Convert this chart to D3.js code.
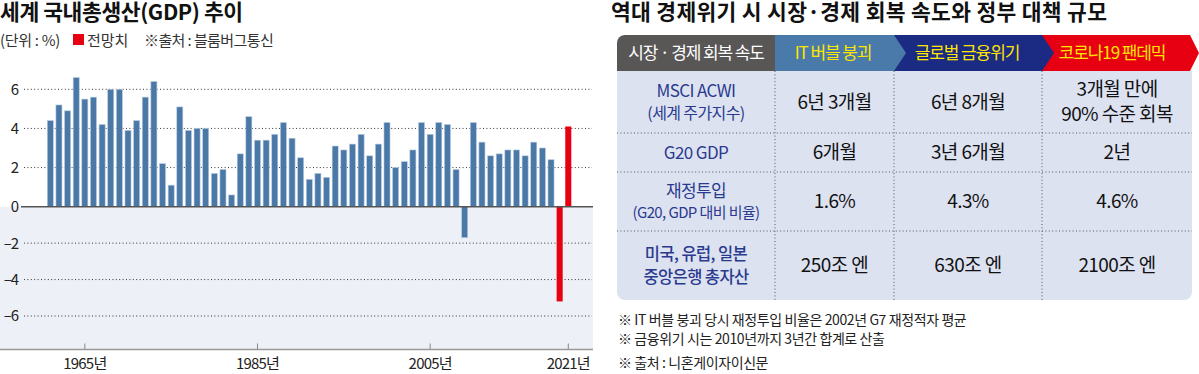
<!DOCTYPE html>
<html>
<head>
<meta charset="utf-8">
<script src="https://cdn.jsdelivr.net/npm/d3@7"></script>
<style>
  body { margin: 0; background: #fff; }
  svg { display: block; }
  text { font-family: "Noto Sans CJK KR", sans-serif; }
</style>
</head>
<body>
<div id="chart"></div>
<script>
// ---- data: world GDP growth (%), 2020-2021 are forecasts
var years = d3.range(1961, 2022);
var gdpGrowth = [
  4.4, 5.2, 4.9, 6.6, 5.5, 5.6, 4.2, 6.0, 6.0, 3.9,
  4.4, 5.6, 6.4, 2.2, 1.1, 5.1, 3.9, 4.0, 4.0, 1.7,
  1.9, 0.6, 2.7, 4.6, 3.4, 3.4, 3.7, 4.3, 3.5, 2.5,
  1.4, 1.7, 1.5, 3.1, 2.9, 3.2, 3.7, 2.6, 3.2, 4.3,
  2.0, 2.3, 2.9, 4.3, 3.7, 4.3, 4.2, 1.9, -1.7, 4.3,
  3.3, 2.6, 2.7, 2.9, 2.9, 2.6, 3.3, 3.0, 2.4, -5.2,
  4.1
];
var forecastYears = [2020, 2021];
var yTicks = [6, 4, 2, 0, -2, -4, -6];
var xTickYears = [1965, 1985, 2005, 2021];

// ---- data: table
var headers = ["시장 · 경제 회복 속도", "IT 버블 붕괴", "글로벌 금융위기", "코로나19 팬데믹"];
var rowLabels = [["MSCI ACWI", "(세계 주가지수)"], ["G20 GDP"], ["재정투입", "(G20, GDP 대비 비율)"], ["미국, 유럽, 일본", "중앙은행 총자산"]];
var itBubble = [["6년 3개월"], ["6개월"], ["1.6%"], ["250조 엔"]];
var financialCrisis = [["6년 8개월"], ["3년 6개월"], ["4.3%"], ["630조 엔"]];
var pandemic = [["3개월 만에", "90% 수준 회복"], ["2년"], ["4.6%"], ["2100조 엔"]];
var footnotes = ["※  IT 버블 붕괴 당시 재정투입 비율은 2002년 G7 재정적자 평균", "※  금융위기 시는 2010년까지 3년간 합계로 산출", "※ 출처 : 니혼게이자이신문"];

var W = 1199, H = 374;
var svg = d3.select("#chart").append("svg").attr("width", W).attr("height", H);
svg.append("rect").attr("width", W).attr("height", H).attr("fill", "#fff");

// ================= left: bar chart =================
var x = d3.scaleBand().domain(years).range([44.7, 573.9]).paddingInner(0.3).paddingOuter(0.3);
var y = d3.scaleLinear().domain([-6, 0, 6]).range([316, 206.7, 89.3]);
var plotLeft = 0, plotRight = 593, axisY = 349.5;

// light background below zero
svg.append("rect")
  .attr("x", plotLeft).attr("y", y(0))
  .attr("width", plotRight - plotLeft).attr("height", axisY - y(0))
  .attr("fill", "#eef0f8");

// gridlines
svg.append("g").selectAll("line")
  .data(yTicks.filter(function (d) { return d !== 0; }))
  .enter().append("line")
  .attr("x1", 24).attr("x2", 592)
  .attr("y1", function (d) { return y(d); })
  .attr("y2", function (d) { return y(d); })
  .attr("stroke", "#333").attr("stroke-width", 1)
  .attr("stroke-dasharray", "1,2.4");

// y labels
svg.append("g").selectAll("text")
  .data(yTicks)
  .enter().append("text")
  .attr("x", 18).attr("y", function (d) { return y(d); })
  .attr("dy", "0.36em")
  .attr("text-anchor", "end")
  .attr("font-size", 15).attr("fill", "#222")
  .attr("letter-spacing", -1)
  .text(function (d) { return d < 0 ? "\u2013" + Math.abs(d) : d; });

// bars
svg.append("g").selectAll("rect")
  .data(years)
  .enter().append("rect")
  .attr("x", function (d) { return x(d); })
  .attr("width", x.bandwidth())
  .attr("y", function (d, i) { return Math.min(y(gdpGrowth[i]), y(0)); })
  .attr("height", function (d, i) { return Math.abs(y(gdpGrowth[i]) - y(0)); })
  .attr("fill", function (d) { return forecastYears.indexOf(d) >= 0 ? "#e60012" : "#4a78a7"; })
  .attr("stroke", function (d) { return forecastYears.indexOf(d) >= 0 ? "none" : "#b9cbe0"; })
  .attr("stroke-width", 0.6);

// zero line
svg.append("line")
  .attr("x1", 21).attr("x2", 593)
  .attr("y1", y(0)).attr("y2", y(0))
  .attr("stroke", "#555").attr("stroke-width", 1.6);

// bottom axis
var xAxis = d3.axisBottom(x).tickValues(xTickYears).tickSize(0)
  .tickFormat(function (d) { return d + "년"; });
var gx = svg.append("g").attr("transform", "translate(0," + axisY + ")").call(xAxis);
gx.select(".domain").remove();
gx.selectAll(".tick line").remove();
gx.selectAll(".tick").append("line")
  .attr("y1", 0).attr("y2", -6).attr("stroke", "#888").attr("stroke-width", 1);
gx.selectAll(".tick text")
  .attr("y", 9).attr("dy", "0.71em")
  .attr("font-family", "Noto Sans CJK KR")
  .attr("font-size", 15).attr("fill", "#222")
  .attr("letter-spacing", -0.8);
svg.append("line")
  .attr("x1", 0).attr("x2", plotRight)
  .attr("y1", axisY).attr("y2", axisY)
  .attr("stroke", "#999").attr("stroke-width", 1.5);

// title & legend
svg.append("text").attr("x", 0).attr("y", 20)
  .attr("font-size", 21.5).attr("font-weight", "bold").attr("fill", "#111")
  .attr("letter-spacing", -0.4)
  .text("세계 국내총생산(GDP) 추이");
var sub = svg.append("g").attr("font-size", 15).attr("fill", "#333");
sub.append("text").attr("x", 0).attr("y", 46).attr("letter-spacing", -0.3).text("(단위 : %)");
sub.append("rect").attr("x", 73).attr("y", 34).attr("width", 11).attr("height", 11).attr("fill", "#e60012");
sub.append("text").attr("x", 87).attr("y", 46).text("전망치");
sub.append("text").attr("x", 144).attr("y", 46).attr("letter-spacing", -0.6).text("※출처 : 블룸버그통신");

// ================= right: table =================
var tLeft = 617, tRight = 1192;
var colEdges = [617, 775, 894, 1042, 1192];
var headTop = 35, headBot = 71;
var rowEdges = [71, 133, 172, 231, 300];
var r = 8;

svg.append("text").attr("x", 611).attr("y", 20)
  .attr("font-size", 21.5).attr("font-weight", "bold").attr("fill", "#111")
  .attr("letter-spacing", 0.3)
  .text("역대 경제위기 시 시장·경제 회복 속도와 정부 대책 규모");

// body background
var bodyPath = d3.path();
bodyPath.moveTo(tLeft, rowEdges[0]);
bodyPath.lineTo(tRight, rowEdges[0]);
bodyPath.lineTo(tRight, rowEdges[4] - r);
bodyPath.arcTo(tRight, rowEdges[4], tRight - r, rowEdges[4], r);
bodyPath.lineTo(tLeft + r, rowEdges[4]);
bodyPath.arcTo(tLeft, rowEdges[4], tLeft, rowEdges[4] - r, r);
bodyPath.closePath();
svg.append("path").attr("d", bodyPath.toString()).attr("fill", "#dde2f1");

// header cells (drawn right to left so each arrow tip sits on top)
var tip = 12, mid = (headTop + headBot) / 2;
var headColors = ["#595656", "#4a7aa9", "#1b2a83", "#e60012"];
var headText = ["#fff", "#ffe600", "#ffe600", "#ffe600"];
[3, 2, 1].forEach(function (i) {
  var x0 = colEdges[i], x1 = (i === 3) ? tRight - 2 : colEdges[i + 1];
  var pts = [[x0, headTop], [x1, headTop], [x1 + (i === 3 ? 9 : tip), mid], [x1, headBot], [x0, headBot]];
  svg.append("polygon").attr("points", pts.map(function (p) { return p.join(","); }).join(" "))
    .attr("fill", headColors[i]);
});
var gp = d3.path();
gp.moveTo(colEdges[1], headTop);
gp.lineTo(colEdges[1], headBot);
gp.lineTo(tLeft, headBot);
gp.lineTo(tLeft, headTop + r);
gp.arcTo(tLeft, headTop, tLeft + r, headTop, r);
gp.closePath();
svg.append("path").attr("d", gp.toString()).attr("fill", headColors[0]);

var headCx = [696, 833, 967, 1112];
svg.append("g").selectAll("text").data(headers).enter().append("text")
  .attr("x", function (d, i) { return headCx[i]; })
  .attr("y", mid).attr("dy", "0.36em")
  .attr("text-anchor", "middle").attr("font-size", 17)
  .attr("letter-spacing", -1.1)
  .attr("fill", function (d, i) { return headText[i]; })
  .text(function (d) { return d; });

// dotted dividers
var divs = svg.append("g").attr("stroke", "#555").attr("stroke-width", 1).attr("stroke-dasharray", "1,2.4");
colEdges.slice(1, 4).forEach(function (cx) {
  divs.append("line").attr("x1", cx).attr("x2", cx).attr("y1", rowEdges[0]).attr("y2", rowEdges[4]);
});
rowEdges.slice(1, 4).forEach(function (ry) {
  divs.append("line").attr("x1", tLeft).attr("x2", tRight).attr("y1", ry).attr("y2", ry);
});

// cell text
function cellLines(g, lines, cx, rowIdx, opts) {
  var cy = (rowEdges[rowIdx] + rowEdges[rowIdx + 1]) / 2;
  var lh = opts.lh;
  lines.forEach(function (t, k) {
    g.append("text")
      .attr("x", cx)
      .attr("y", cy + (k - (lines.length - 1) / 2) * lh)
      .attr("dy", "0.36em")
      .attr("text-anchor", "middle")
      .attr("font-size", (opts.sizes ? opts.sizes[k] : opts.size))
      .attr("font-weight", opts.weight || "normal")
      .attr("letter-spacing", opts.ls || 0)
      .attr("fill", opts.color)
      .text(t);
  });
}
var cells = svg.append("g");
var colCx = [696, 834.5, 968, 1117];
rowLabels.forEach(function (lines, ri) {
  var sizes = ri === 3 ? [16.5, 16.5] : (ri === 2 ? [17, 15] : [17, 16]);
  cellLines(cells, lines, colCx[0], ri, { lh: ri === 3 ? 23 : 22, sizes: sizes, color: "#2a3a8f", weight: ri === 3 ? 500 : "normal", ls: -0.6 });
});
[itBubble, financialCrisis, pandemic].forEach(function (col, ci) {
  col.forEach(function (lines, ri) {
    cellLines(cells, lines, colCx[ci + 1], ri, { lh: 25, size: 19, color: "#111", ls: -0.6 });
  });
});

// footnotes
svg.append("g").selectAll("text").data(footnotes).enter().append("text")
  .attr("x", 618)
  .attr("y", function (d, i) { return [320, 339, 363][i]; })
  .attr("dy", "0.36em")
  .attr("font-size", 14).attr("fill", "#222")
  .attr("letter-spacing", -0.4)
  .text(function (d) { return d; });
</script>
</body>
</html>
